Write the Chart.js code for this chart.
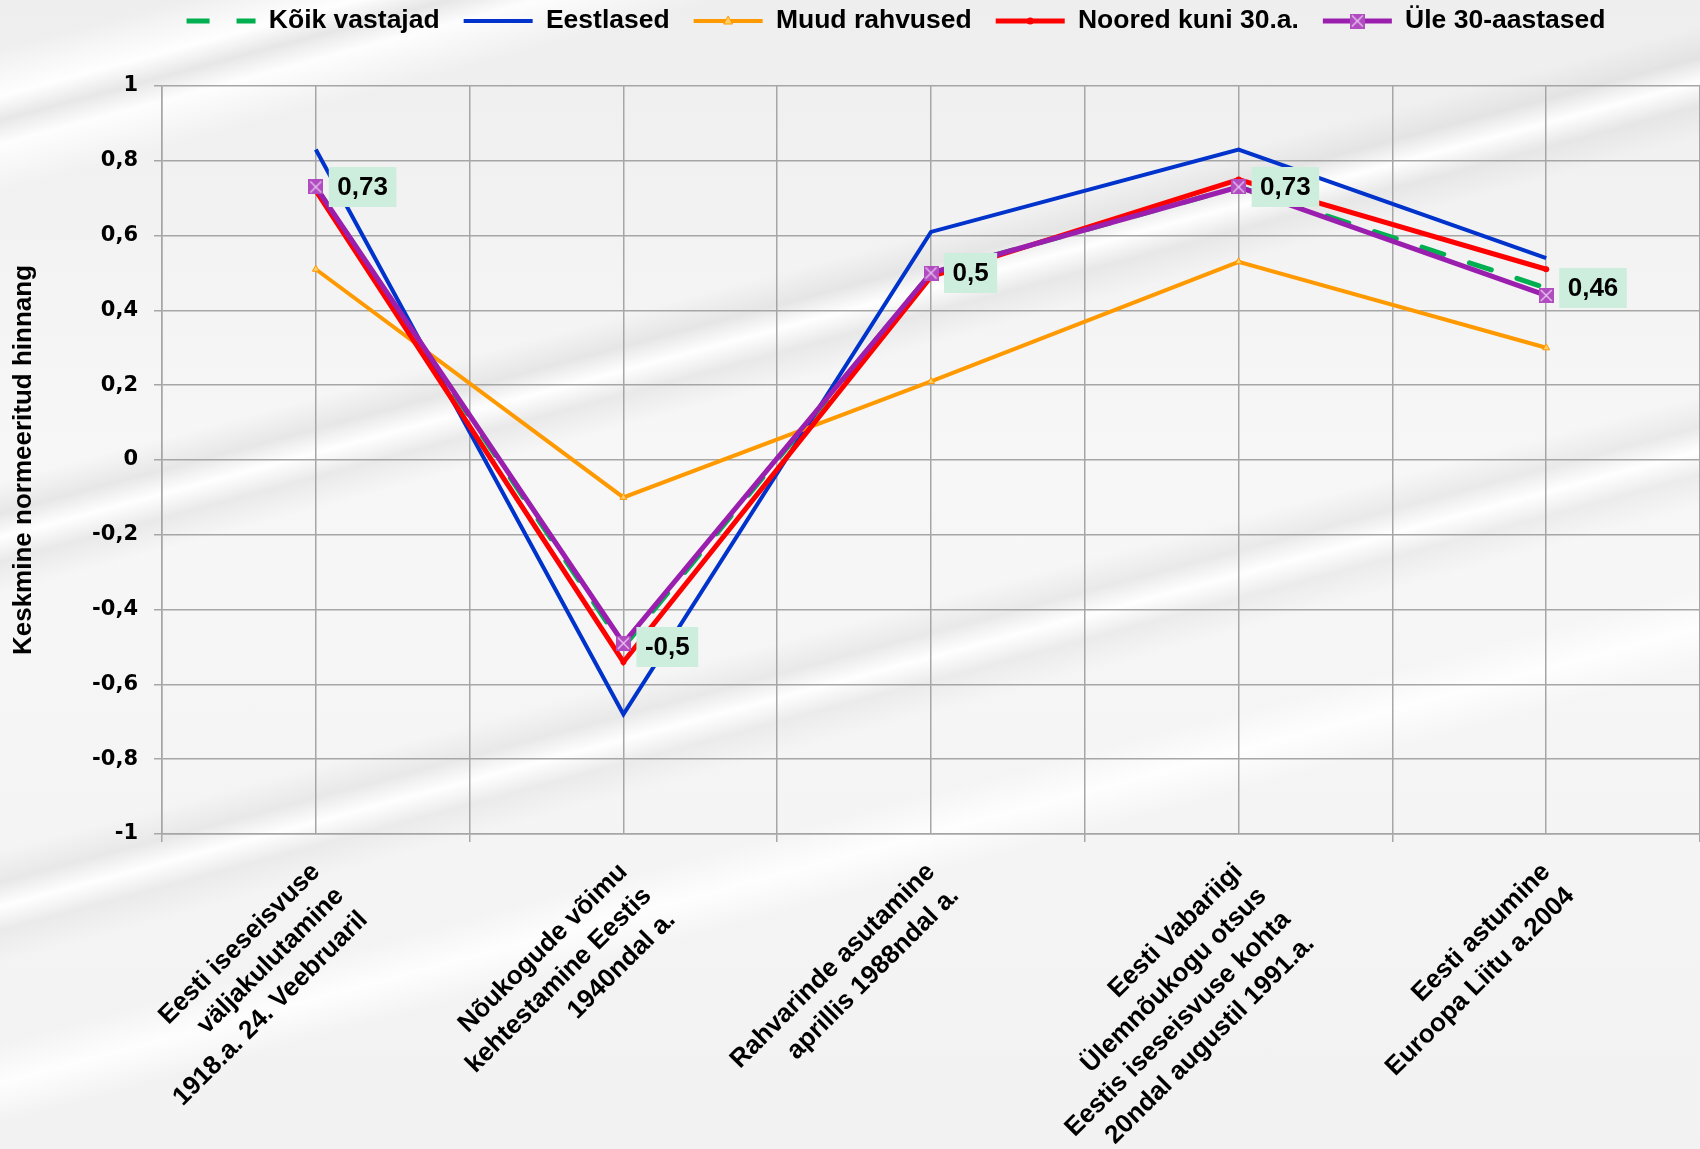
<!DOCTYPE html>
<html>
<head>
<meta charset="utf-8">
<script src="https://cdn.jsdelivr.net/npm/chart.js@4.4.1/dist/chart.umd.min.js"></script>
<style>
html, body { margin: 0; padding: 0; }
body {
    width: 1700px;
    height: 1149px;
    overflow: hidden;
    background:
        linear-gradient(165deg,
            rgba(255,255,255,0) 3%, rgba(255,255,255,0.95) 6%, rgba(225,225,225,0.6) 7.5%, rgba(255,255,255,0.9) 9%, rgba(255,255,255,0) 12%,
            rgba(255,255,255,0) 30%, rgba(215,215,215,0.5) 32%, rgba(255,255,255,0.95) 33.5%, rgba(220,220,220,0.5) 35%, rgba(255,255,255,0) 37%,
            rgba(255,255,255,0) 53%, rgba(220,220,220,0.5) 55%, rgba(255,255,255,0.95) 56.5%, rgba(225,225,225,0.5) 58%, rgba(255,255,255,0) 60%,
            rgba(255,255,255,0) 65%, rgba(255,255,255,0.9) 67.5%, rgba(255,255,255,0) 70%),
        linear-gradient(180deg, #eeeeee 0%, #f7f7f7 40%, #f2f2f2 100%);
}
canvas { display: block; }
</style>
</head>
<body>
<canvas id="chart" width="1700" height="1149"></canvas>
<script>
// Categories (event labels, split into lines)
const categoryLabels = [
    ['Eesti iseseisvuse', 'väljakulutamine', '1918.a. 24. Veebruaril'],
    ['Nõukogude võimu', 'kehtestamine Eestis', '1940ndal a.'],
    ['Rahvarinde asutamine', 'aprillis 1988ndal a.'],
    ['Eesti Vabariigi', 'Ülemnõukogu otsus', 'Eestis iseseisvuse kohta', '20ndal augustil 1991.a.'],
    ['Eesti astumine', 'Euroopa Liitu a.2004']
];

const seriesNames = ['Kõik vastajad', 'Eestlased', 'Muud rahvused', 'Noored kuni 30.a.', 'Üle 30-aastased'];

// Series values
const allRespondents = [0.73, -0.50, 0.50, 0.73, 0.46];
const estonians = [0.83, -0.68, 0.61, 0.83, 0.54];
const otherNationalities = [0.51, -0.10, 0.21, 0.53, 0.30];
const youngUpTo30 = [0.72, -0.54, 0.49, 0.75, 0.51];
const over30 = [0.73, -0.49, 0.50, 0.73, 0.44];

const Y_MIN = -1;
const Y_MAX = 1;
const Y_STEP = 0.2;

const FONT = '"Liberation Sans", Arial, sans-serif';
const GRID = '#a6a6a6';
const LEGEND_BOX = 69;

function fmt(v) {
    return String(Math.round(v * 100) / 100).replace('.', ',');
}

// purple square marker with an x
const xMark = document.createElement('canvas');
xMark.width = 15;
xMark.height = 15;
const m = xMark.getContext('2d');
m.fillStyle = '#b04cc0';
m.fillRect(0, 0, 15, 15);
m.strokeStyle = '#ecc8f2';
m.lineWidth = 1.3;
m.beginPath();
m.moveTo(2, 2); m.lineTo(13, 13);
m.moveTo(13, 2); m.lineTo(2, 13);
m.stroke();

// labels on the "Kõik vastajad" points
const valueLabels = {
    id: 'valueLabels',
    afterDatasetsDraw(chart) {
        const ctx = chart.ctx;
        const meta = chart.getDatasetMeta(0);
        ctx.save();
        ctx.font = 'bold 26px ' + FONT;
        ctx.textBaseline = 'middle';
        meta.data.forEach((pt, i) => {
            const text = fmt(allRespondents[i]);
            const w = ctx.measureText(text).width;
            const bx = pt.x + 13;
            ctx.fillStyle = '#cdeedd';
            ctx.fillRect(bx, pt.y - 20, w + 17, 40);
            ctx.fillStyle = '#000';
            ctx.fillText(text, bx + 8.5, pt.y + 1);
        });
        ctx.restore();
    }
};

// legend: fixed height, nudged like the original, with series markers
const legendPlace = {
    id: 'legendPlace',
    beforeInit(chart) {
        const lg = chart.legend;
        const fit = lg.fit;
        lg.fit = function () {
            fit.call(this);
            this.height = 86;
        };
    },
    afterLayout(chart) {
        const lg = chart.legend;
        const pad = lg.options.labels.padding;
        const size = lg.options.labels.font.size;
        lg.top = 21 - pad - size / 2;
        lg.left += 46;
        lg.right += 46;
    },
    afterDraw(chart) {
        const lg = chart.legend;
        const ctx = chart.ctx;
        ctx.save();
        lg.legendHitBoxes.forEach((hb, i) => {
            const cx = hb.left + LEGEND_BOX / 2;
            const cy = hb.top + hb.height / 2;
            if (i === 2) {
                ctx.fillStyle = '#ffcc66';
                ctx.strokeStyle = '#ff9900';
                ctx.lineWidth = 1;
                ctx.beginPath();
                ctx.moveTo(cx, cy - 5);
                ctx.lineTo(cx + 4.5, cy + 3);
                ctx.lineTo(cx - 4.5, cy + 3);
                ctx.closePath();
                ctx.fill();
                ctx.stroke();
            } else if (i === 3) {
                ctx.fillStyle = '#ff0000';
                ctx.beginPath();
                ctx.arc(cx, cy, 3.5, 0, Math.PI * 2);
                ctx.fill();
            } else if (i === 4) {
                ctx.drawImage(xMark, cx - 7.5, cy - 7.5);
            }
        });
        ctx.restore();
    }
};

const ctx = document.getElementById('chart').getContext('2d');
new Chart(ctx, {
    type: 'line',
    data: {
        labels: categoryLabels,
        datasets: [
            {
                label: seriesNames[0],
                data: allRespondents,
                xAxisID: 'x',
                borderColor: '#00b050',
                backgroundColor: '#00b050',
                borderWidth: 5,
                borderDash: [23, 27],
                borderCapStyle: 'round',
                pointRadius: 0,
                order: 5
            },
            {
                label: seriesNames[1],
                data: estonians,
                xAxisID: 'x',
                borderColor: '#0033cc',
                backgroundColor: '#0033cc',
                borderWidth: 4,
                pointRadius: 0,
                order: 4
            },
            {
                label: seriesNames[2],
                data: otherNationalities,
                xAxisID: 'x',
                borderColor: '#ff9900',
                backgroundColor: '#ff9900',
                borderWidth: 4,
                pointStyle: 'triangle',
                pointRadius: 4,
                pointBackgroundColor: '#ffcc66',
                pointBorderColor: '#ff9900',
                pointBorderWidth: 1,
                order: 3
            },
            {
                label: seriesNames[3],
                data: youngUpTo30,
                xAxisID: 'x',
                borderColor: '#ff0000',
                backgroundColor: '#ff0000',
                borderWidth: 5,
                pointStyle: 'circle',
                pointRadius: 3,
                pointBackgroundColor: '#ff0000',
                pointBorderWidth: 0,
                order: 2
            },
            {
                label: seriesNames[4],
                data: over30,
                xAxisID: 'x',
                borderColor: '#9b1fae',
                backgroundColor: '#9b1fae',
                borderWidth: 5,
                pointStyle: xMark,
                order: 1
            }
        ]
    },
    options: {
        responsive: false,
        animation: false,
        layout: { padding: 0, autoPadding: false },
        plugins: {
            legend: {
                position: 'top',
                labels: {
                    usePointStyle: true,
                    pointStyle: 'line',
                    pointStyleWidth: LEGEND_BOX,
                    boxHeight: 10,
                    padding: 24,
                    color: '#000',
                    font: { family: FONT, size: 26.5, weight: 'bold' },
                    sort: (a, b) => a.datasetIndex - b.datasetIndex,
                    generateLabels(chart) {
                        const items = Chart.defaults.plugins.legend.labels.generateLabels(chart);
                        items.forEach(it => {
                            const ds = chart.data.datasets[it.datasetIndex];
                            it.pointStyle = 'line';
                            it.strokeStyle = ds.borderColor;
                            it.lineWidth = ds.borderWidth;
                            it.lineDash = ds.borderDash || [];
                            it.lineCap = 'butt';
                        });
                        return items;
                    }
                }
            },
            tooltip: { enabled: false }
        },
        scales: {
            x: {
                type: 'category',
                offset: true,
                grid: { offset: true, color: GRID, lineWidth: 1.5, tickLength: 8 },
                border: { color: GRID, width: 1.5 },
                ticks: {
                    autoSkip: false,
                    minRotation: 45,
                    maxRotation: 45,
                    padding: 14,
                    color: '#000',
                    font: { family: FONT, size: 26, weight: 'bold', lineHeight: 1.3 }
                },
                afterFit(s) {
                    s.height = 315;
                    s.paddingLeft = 0;
                    s.paddingRight = 0;
                }
            },
            x2: {
                type: 'category',
                offset: true,
                position: 'bottom',
                grid: { offset: false, color: GRID, lineWidth: 1.5, drawTicks: false },
                border: { display: false },
                ticks: { display: false },
                afterFit(s) {
                    s.height = 0;
                    s.paddingLeft = 0;
                    s.paddingRight = 0;
                }
            },
            y: {
                min: Y_MIN,
                max: Y_MAX,
                grid: { color: GRID, lineWidth: 1.5, tickLength: 8 },
                border: { color: GRID, width: 1.5 },
                ticks: {
                    stepSize: Y_STEP,
                    padding: 16,
                    color: '#000',
                    font: { family: '"DejaVu Sans", Verdana, sans-serif', size: 21, weight: 'bold' },
                    callback: v => fmt(v)
                },
                title: {
                    display: true,
                    text: 'Keskmine normeeritud hinnang',
                    color: '#000',
                    font: { family: FONT, size: 26, weight: 'bold' },
                    padding: { top: 8, bottom: 0 }
                },
                afterFit(s) { s.width = 162; }
            }
        }
    },
    plugins: [valueLabels, legendPlace]
});
</script>
</body>
</html>
